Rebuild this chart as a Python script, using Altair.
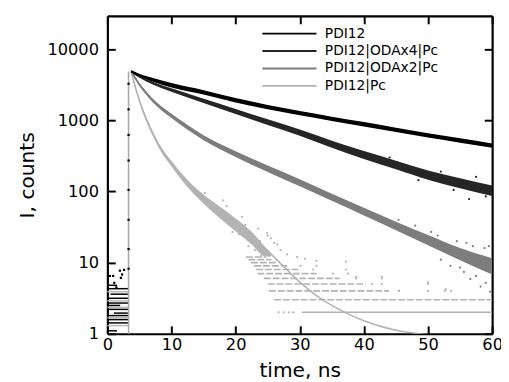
import altair as alt
import pandas as pd

# ---------------- data ----------------
series_names = ["PDI12", "PDI12|ODAx4|Pc", "PDI12|ODAx2|Pc", "PDI12|Pc"]
series_colors = ["#000000", "#262626", "#7d7d7d", "#b3b3b3"]

t_main = [3.7, 5, 7, 10, 15, 20, 25, 30, 35, 40, 45, 50, 55, 60]
pdi12_mid = [4860, 4280, 3730, 3110, 2470, 1910, 1530, 1260, 1050, 880, 735, 615, 520, 440]
pdi12_lo = [4700, 4090, 3520, 2900, 2305, 1780, 1427, 1175, 980, 820, 686, 574, 485, 410]
pdi12_hi = [5030, 4480, 3950, 3335, 2650, 2050, 1640, 1350, 1125, 943, 788, 659, 557, 472]

oda4_mid = [4860, 4150, 3350, 2660, 1870, 1330, 940, 670, 460, 325, 235, 170, 130, 102]
oda4_lo = [4700, 3965, 3200, 2510, 1745, 1227, 858, 604, 410, 286, 205, 146, 111, 86]
oda4_hi = [5030, 4345, 3510, 2815, 2005, 1442, 1030, 743, 516, 369, 270, 197, 153, 121]

oda2_mid = [4860, 3180, 1930, 1150, 570, 335, 208, 132, 83, 52, 32.5, 20.6, 13.0, 8.7]
oda2_lo = [4700, 3037, 1822, 1073, 526, 306, 188, 118, 74, 46, 28.5, 17.5, 10.8, 6.8]
oda2_hi = [5030, 3330, 2044, 1233, 618, 367, 231, 148, 93, 59, 37.5, 24.5, 16.0, 11.5]

t_pc_band = [3.7, 4.5, 5.5, 7, 8.5, 10, 12.5, 15, 17.5, 20, 22.5, 24.5, 25.5]
pc_lo = [4700, 2530, 1322, 625, 346, 224, 115, 67, 42.4, 27.6, 17.9, 12.3, 12.1]
pc_hi = [5030, 2775, 1483, 718, 406, 268, 145, 90.5, 61.3, 41.8, 27.1, 17.0, 13.9]

t_pc_line = [3.7, 4.5, 5.5, 7, 8.5, 10, 12.5, 15, 17.5, 20, 22.5, 25, 27.5, 30,
             32.5, 35, 37.5, 40, 42.5, 45, 47.5, 50, 55, 60]
pc_line = [4860, 2650, 1400, 670, 375, 245, 129, 78, 51, 34, 22, 14.5, 8.8, 5.3,
           3.5, 2.5, 1.9, 1.52, 1.28, 1.12, 1.03, 0.97, 0.9, 0.85]

# discrete count rows of the PDI12|Pc decay
pc_row_count = [2, 3, 4, 5, 6, 7, 8, 9, 10, 11, 12]
pc_row_start = [30.3, 26.0, 25.2, 25.0, 24.4, 23.4, 23.2, 22.9, 22.4, 22.0, 21.6]
pc_row_end = [60.0, 60.0, 43.9, 40.3, 36.2, 32.6, 30.1, 28.0, 26.5, 25.6, 24.8]

pc_dot_t = [18.6, 21.0, 23.5, 24.9, 25.5, 26.0, 29.6, 30.8, 32.6, 37.2, 38.8, 42.8, 50.0,
            52.8, 45.5, 26.7, 27.5, 28.3, 29.0, 45.4, 50.0, 52.6, 53.6, 41.3, 42.8, 50.0,
            38.8, 42.8, 35.2, 37.5, 32.1, 37.2, 30.1, 32.6, 16.0, 17.0, 19.5, 20.5, 22.0,
            23.0, 24.0, 15.2, 18.0, 21.5, 23.8, 25.0, 27.0, 26.5, 24.2, 28.0]
pc_dot_I = [62, 44, 30, 26, 22, 19, 12, 11.3, 10.6, 10.3, 6.3, 6.3, 5.3,
            4.2, 4.0, 2, 2, 2, 2, 4, 4, 4, 4, 5, 5, 5,
            6, 6, 7, 7, 8, 8, 9, 9, 58, 52, 27, 25, 17,
            15, 12.5, 95, 75, 34, 20, 24, 15, 18, 16.5, 13]

oda2_dot_t = [56.6, 58.2, 55.6, 59.7, 45.4, 57.5, 59.0, 52.0, 53.5, 54.5, 57.0, 58.8,
              50.5, 48.0, 55.0, 59.5, 56.0, 51.5]
oda2_dot_I = [5.9, 4.6, 7.4, 3.9, 40, 6.5, 5.2, 11, 9, 20, 17, 16,
              27, 33, 8.5, 17, 19, 24]
oda4_dot_t = [56.4, 48.5, 44.0, 59.0, 52.0, 57.5, 54.0]
oda4_dot_I = [78, 144, 300, 85, 190, 160, 105]

# before the excitation pulse
pre_black_level = [4.8, 4.3, 3.6, 3.15, 2.7, 2.5, 2.2, 1.95, 1.8, 1.58, 1.42, 1.1]
pre_black_start = [0, 0, 0.5, 0, 0, 0, 0, 1.0, 0, 0, 0, 0]
pre_black_end = [1.5, 3.3, 3.2, 3.3, 3.3, 2.0, 3.3, 3.2, 3.3, 3.3, 3.3, 1.5]
pre_gray_level = [3.9, 2.9, 2.35, 1.68, 1.3]
pre_dot_t = [0.4, 0.9, 1.07, 1.4, 1.95, 2.1, 2.3, 2.6]
pre_dot_I = [6.5, 6.5, 5.2, 4.5, 7.7, 6.1, 6.8, 7.9]

# rising edge
rise_t = [3.3]
rise_lo = [1]
rise_hi = [4860]
rise_dot_I = [3260, 1425, 622, 272, 105, 40, 15.5, 8.2]

x_ticks = [0, 10, 20, 30, 40, 50, 60]
y_ticks = [1, 10, 100, 1000, 10000]
frame_x = [0]
frame_y = [1]

# ---------------- tables ----------------
band_df = pd.concat([
    pd.DataFrame({"t": t_pc_band, "lo": pc_lo, "hi": pc_hi, "series": series_names[3]}),
    pd.DataFrame({"t": t_main, "lo": oda2_lo, "hi": oda2_hi, "series": series_names[2]}),
    pd.DataFrame({"t": t_main, "lo": oda4_lo, "hi": oda4_hi, "series": series_names[1]}),
    pd.DataFrame({"t": t_main, "lo": pdi12_lo, "hi": pdi12_hi, "series": series_names[0]}),
])
line_df = pd.concat([
    pd.DataFrame({"t": t_pc_line, "I": pc_line, "series": series_names[3]}),
    pd.DataFrame({"t": t_main, "I": oda2_mid, "series": series_names[2]}),
    pd.DataFrame({"t": t_main, "I": oda4_mid, "series": series_names[1]}),
    pd.DataFrame({"t": t_main, "I": pdi12_mid, "series": series_names[0]}),
])
rows_df = pd.DataFrame({"c": pc_row_count, "t0": pc_row_start, "t1": pc_row_end})
pcdot_df = pd.DataFrame({"t": pc_dot_t, "I": pc_dot_I})
o2dot_df = pd.DataFrame({"t": oda2_dot_t, "I": oda2_dot_I})
o4dot_df = pd.DataFrame({"t": oda4_dot_t, "I": oda4_dot_I})
preb_df = pd.DataFrame({"c": pre_black_level, "t0": pre_black_start, "t1": pre_black_end})
preg_df = pd.DataFrame({"c": pre_gray_level, "t0": [0] * len(pre_gray_level),
                        "t1": [3.3] * len(pre_gray_level)})
predot_df = pd.DataFrame({"t": pre_dot_t, "I": pre_dot_I})
rise_df = pd.DataFrame({"t": rise_t, "lo": rise_lo, "hi": rise_hi})
risedot_df = pd.DataFrame({"t": [3.3] * len(rise_dot_I), "I": rise_dot_I})
frame_df = pd.DataFrame({"t": frame_x, "I": frame_y})

# ---------------- scales / axes ----------------
xscale = alt.Scale(domain=[0, 60], nice=False, zero=False)
yscale = alt.Scale(type="log", domain=[1, 29300], nice=False)

FONT = "DejaVu Sans"
common_axis = dict(tickSize=8, offset=-8, domain=False, grid=False, tickWidth=2,
                   tickColor="black", labelColor="black", titleColor="black",
                   labelFont=FONT, titleFont=FONT, titleFontWeight="normal",
                   labelOverlap=False)
x_axis = alt.Axis(orient="bottom", values=x_ticks, labelFontSize=16.5, labelPadding=3,
                  labelFlush=False, title="time, ns", titleFontSize=20.5, titlePadding=8,
                  **common_axis)
y_axis = alt.Axis(orient="left", values=y_ticks, format="d", labelFontSize=16.5,
                  labelPadding=9, title="I, counts", titleFontSize=20.5, titlePadding=10,
                  **common_axis)
x_top = alt.Axis(orient="top", values=x_ticks, labels=False, title=None, **common_axis)
y_right = alt.Axis(orient="right", values=y_ticks, labels=False, title=None, **common_axis)
frame_axis = dict(domain=True, domainColor="black", domainWidth=2.2, ticks=False,
                  labels=False, title=None, grid=False, offset=0)
x_frame_b = alt.Axis(orient="bottom", **frame_axis)
y_frame_l = alt.Axis(orient="left", **frame_axis)
x_frame_t = alt.Axis(orient="top", **frame_axis)
y_frame_r = alt.Axis(orient="right", **frame_axis)


def X(field, axis=None):
    return alt.X(f"{field}:Q", scale=xscale, axis=axis)


def Y(field, axis=None):
    return alt.Y(f"{field}:Q", scale=yscale, axis=axis)


PC = series_colors[3]

pre_gray = alt.Chart(preg_df).mark_rule(color="#b8b8b8", strokeWidth=1.5).encode(
    x=X("t0", x_axis), x2="t1", y=Y("c", y_axis))
pre_black = alt.Chart(preb_df).mark_rule(color="black", strokeWidth=1.5).encode(
    x=X("t0"), x2="t1", y=Y("c"))
pre_dots = alt.Chart(predot_df).mark_square(color="black", size=5, opacity=1).encode(
    x=X("t"), y=Y("I"))
rise = alt.Chart(rise_df).mark_rule(color="#a8a8a8", strokeWidth=1.5).encode(
    x=X("t", x_top), y=Y("lo", y_right), y2="hi")
rows_solid = alt.Chart(rows_df).transform_filter("datum.c == 2").mark_rule(
    color=PC, strokeWidth=1.6, clip=True).encode(x=X("t0"), x2="t1", y=Y("c"))
rows_dash = alt.Chart(rows_df).transform_filter("datum.c > 2").mark_rule(
    color=PC, strokeWidth=1.6, strokeDash=[7, 2], clip=True).encode(
    x=X("t0"), x2="t1", y=Y("c"))
pc_dots = alt.Chart(pcdot_df).mark_circle(color=PC, size=5, opacity=1).encode(
    x=X("t"), y=Y("I"))

band_layers = []
for name, col in zip(series_names[::-1], series_colors[::-1]):
    band_layers.append(
        alt.Chart(band_df).transform_filter(alt.datum.series == name).mark_area(
            interpolate="monotone", opacity=1, clip=True, color=col).encode(
            x=X("t"), y=Y("lo"), y2="hi"))

lines = alt.Chart(line_df).mark_line(interpolate="monotone", strokeWidth=1.6,
                                     clip=True).encode(
    x=X("t"), y=Y("I"),
    color=alt.Color("series:N", scale=alt.Scale(domain=series_names, range=series_colors),
                    legend=alt.Legend(orient="none", legendX=177, legendY=10, title=None,
                                      symbolType="M-3.93,0H3.93", symbolSize=196,
                                      symbolStrokeWidth=2, labelFontSize=14,
                                      labelFont=FONT, labelOffset=28, rowPadding=2.7,
                                      padding=0, labelColor="black", labelLimit=300)),
    order=alt.Order("t:Q"))

o2_dots = alt.Chart(o2dot_df).mark_circle(color=series_colors[2], size=5, opacity=1).encode(
    x=X("t"), y=Y("I"))
o4_dots = alt.Chart(o4dot_df).mark_circle(color=series_colors[1], size=5, opacity=1).encode(
    x=X("t"), y=Y("I"))
rise_dots = alt.Chart(risedot_df).mark_square(color="black", size=5, opacity=1).encode(
    x=X("t"), y=Y("I"))
frame_bl = alt.Chart(frame_df).mark_point(opacity=0).encode(
    x=X("t", x_frame_b), y=Y("I", y_frame_l))
frame_tr = alt.Chart(frame_df).mark_point(opacity=0).encode(
    x=X("t", x_frame_t), y=Y("I", y_frame_r))

chart = alt.layer(
    pre_gray, pre_black, pre_dots, rise, rows_solid, rows_dash, pc_dots,
    *band_layers, lines, o2_dots, o4_dots, rise_dots, frame_bl, frame_tr
).resolve_axis(x="independent", y="independent").properties(
    width=391, height=323,
    autosize=alt.AutoSizeParams(type="none"),
    padding={"left": 101, "top": 5, "right": 9, "bottom": 46},
).configure(font=FONT).configure_view(stroke=None)

chart.save("out.html", embed_options={"renderer": "svg", "actions": False})
